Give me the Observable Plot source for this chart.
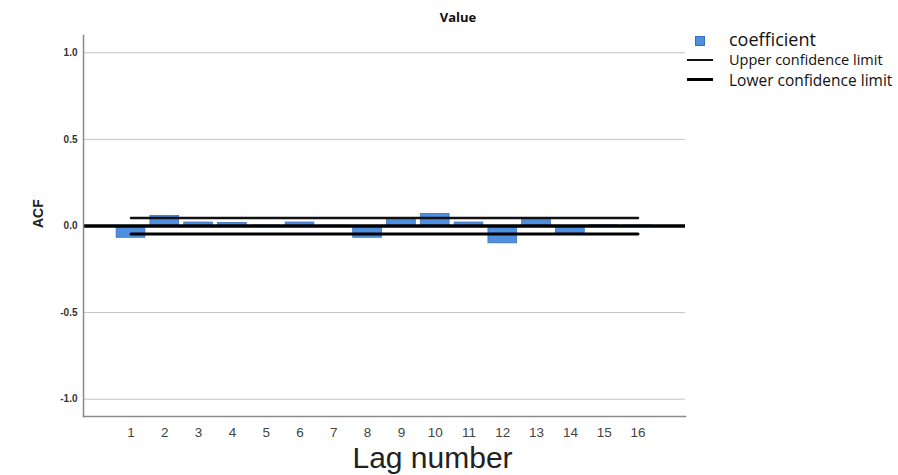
<!DOCTYPE html>
<html>
<head>
<meta charset="utf-8">
<script src="https://cdn.jsdelivr.net/npm/d3@7"></script>
<script src="https://cdn.jsdelivr.net/npm/@observablehq/plot@0.6"></script>
<style>
  html, body { margin: 0; padding: 0; background: #fff; }
  #wrap { position: relative; width: 898px; height: 475px; font-family: "Open Sans", "Noto Sans", sans-serif; }
  #title { position: absolute; left: 0; width: 916px; top: 8px; text-align: center; font: bold 13px "Open Sans", sans-serif; color: #111; }
  .leg { position: absolute; color: #111; white-space: nowrap; font-weight: 500; }
</style>
</head>
<body>
<div id="wrap">
  <div id="chart"></div>
  <div id="title">Value</div>
  <div class="leg" style="left:695px; top:36px; width:10px; height:10px; background:#4f8fe0; border:1px solid #3a6fc0; box-sizing:border-box;"></div>
  <div class="leg" style="left:729px; top:27px; font-size:18px;">coefficient</div>
  <div class="leg" style="left:687px; top:59px; width:26px; height:2px; background:#111;"></div>
  <div class="leg" style="left:729px; top:50px; font-size:14.5px;">Upper confidence limit</div>
  <div class="leg" style="left:687px; top:78px; width:26px; height:3px; background:#000;"></div>
  <div class="leg" style="left:729px; top:69px; font-size:15.5px;">Lower confidence limit</div>
</div>
<script>
const lags = [1, 2, 3, 4, 5, 6, 7, 8, 9, 10, 11, 12, 13, 14, 15, 16];
const acfValues = [-0.068, 0.058, 0.02, 0.018, 0.003, 0.02, 0.002, -0.068, 0.045, 0.07, 0.02, -0.1, 0.045, -0.04, 0.004, 0.003];
const upperLimit = [0.046, 0.046, 0.046, 0.046, 0.046, 0.046, 0.046, 0.046, 0.046, 0.046, 0.046, 0.046, 0.046, 0.046, 0.046, 0.046];
const lowerLimit = [-0.046, -0.046, -0.046, -0.046, -0.046, -0.046, -0.046, -0.046, -0.046, -0.046, -0.046, -0.046, -0.046, -0.046, -0.046, -0.046];
const yTicks = [-1, -0.5, 0, 0.5, 1];
const gridValues = [-1, -0.5, 0.5, 1];

const data = lags.map((lag, i) => ({lag, acf: acfValues[i], upper: upperLimit[i], lower: lowerLimit[i]}));

const chart = Plot.plot({
  width: 898,
  height: 475,
  marginLeft: 83,
  marginRight: 213,
  marginTop: 35,
  marginBottom: 59,
  style: {fontFamily: "Liberation Sans, Arial, sans-serif", background: "#fff"},
  x: {type: "band", domain: lags, paddingInner: 0.15, paddingOuter: 0.98, round: false},
  y: {domain: [-1.1, 1.1]},
  marks: [
    Plot.ruleY(gridValues, {stroke: "#c4c4c4", strokeWidth: 1}),
    Plot.barY(data, {x: "lag", y: "acf", fill: "#4f8fe0", stroke: "#3a6fc0", strokeWidth: 0.8}),
    Plot.ruleY([0], {stroke: "#000", strokeWidth: 3.5}),
    Plot.lineY(data, {x: "lag", y: "upper", stroke: "#111", strokeWidth: 2.4}),
    Plot.lineY(data, {x: "lag", y: "lower", stroke: "#000", strokeWidth: 3}),
    Plot.frame({anchor: "left", stroke: "#8a8a8a", strokeWidth: 1.5}),
    Plot.frame({anchor: "bottom", stroke: "#8a8a8a", strokeWidth: 1.5}),
    Plot.axisY({ticks: yTicks, tickSize: 0, tickPadding: 6, tickFormat: d => d.toFixed(1), label: null, fontSize: 10, fontWeight: "bold", fill: "#333"}),
    Plot.axisX({tickSize: 0, tickPadding: 11, label: null, fontSize: 13.5, fill: "#444"}),
    Plot.text(["ACF"], {frameAnchor: "left", dx: -45, dy: 2, rotate: -90, fontSize: 14, fontWeight: "bold", fill: "#222"}),
    Plot.text(["Lag number"], {frameAnchor: "bottom", lineAnchor: "middle", dx: 48, dy: 42, fontSize: 30, fill: "#222"})
  ]
});
document.getElementById("chart").appendChild(chart);
</script>
</body>
</html>
